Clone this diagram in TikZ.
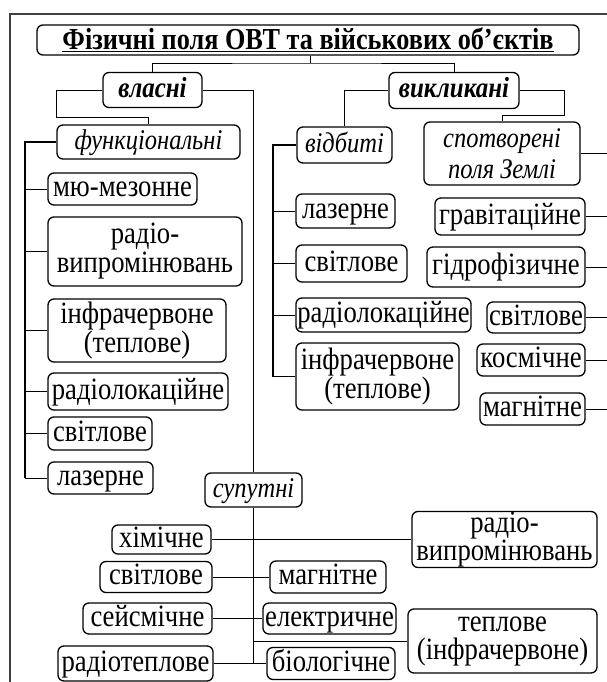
\documentclass[tikz,border=0pt]{standalone}
\usepackage{fontspec}
\setmainfont{Liberation Serif}[FakeStretch=0.86]
\newcommand\xItem{\fontsize{31}{28}\selectfont}
\newcommand\xTitle{\fontsize{30.5}{30}\selectfont\bfseries}
\newcommand\xHead{\fontsize{29}{28}\selectfont\bfseries\itshape}
\newcommand\xIt{\fontsize{28.5}{31}\selectfont\itshape}
\begin{document}
\begin{tikzpicture}[x=1pt,y=-1pt,
  mbox/.style={draw, rounded corners=6pt, line width=1.3pt, inner sep=0pt, align=center, font=\xItem},
  box/.style={mbox, text height=22pt, text depth=7pt},
  ln/.style={line width=0.9pt},
  bus/.style={line width=1.8pt},
]
\useasboundingbox (0,0) rectangle (607,682);
\draw[line width=1.6pt, black!75] (10,682) -- (10,14) -- (607,14);

% top level
\node[mbox, minimum width=542, minimum height=30, font=\xTitle] (title) at (308,40) {\underline{Фізичні поля ОВТ та військових об’єктів}};
\node[box, minimum width=99, minimum height=35, font=\xHead] (vlasni) at (152.5,90) {власні};
\node[box, minimum width=130, minimum height=36, font=\xHead] (vykl) at (454,90.5) {викликані};

% left column
\node[box, minimum width=183, minimum height=34, font=\xIt] (funk) at (148.5,142) {функціональні};
\node[box, minimum width=149, minimum height=32] (mju) at (122.5,189) {мю-мезонне};
\node[mbox, minimum width=194, minimum height=69] (radL) at (145,251.5) {радіо-\\[1pt]випромінювань};
\node[mbox, minimum width=178, minimum height=63] (infL) at (137,330.5) {інфрачервоне\\(теплове)};
\node[box, minimum width=180, minimum height=37] (rlL) at (138,391.5) {радіолокаційне};
\node[box, minimum width=104, minimum height=33] (svL) at (100,433.5) {світлове};
\node[box, minimum width=105, minimum height=32] (lazL) at (100.5,478) {лазерне};

% middle column
\node[box, minimum width=95, minimum height=36, font=\xIt] (vidb) at (344.5,145) {відбиті};
\node[box, minimum width=99, minimum height=34] (lazM) at (345.5,211) {лазерне};
\node[box, minimum width=111, minimum height=37] (svM) at (351.5,263.5) {світлове};
\node[box, minimum width=175, minimum height=34] (rlM) at (383.5,315) {радіолокаційне};
\node[mbox, minimum width=163, minimum height=67] (infM) at (377.5,376.5) {інфрачервоне\\(теплове)};

% right column
\node[mbox, minimum width=156, minimum height=63, font=\xIt] (spot) at (502,153.5) {спотворені\\поля Землі};
\node[box, minimum width=150, minimum height=37] (grav) at (510,216.5) {гравітаційне};
\node[box, minimum width=158, minimum height=40] (hydr) at (506,267) {гідрофізичне};
\node[box, minimum width=98, minimum height=31] (svR) at (536,317.5) {світлове};
\node[box, minimum width=108, minimum height=32] (kosm) at (531,360) {космічне};
\node[box, minimum width=105, minimum height=32] (magR) at (532.5,409) {магнітне};

% bottom section
\node[box, minimum width=97, minimum height=34, font=\xIt] (suputni) at (253.5,490) {супутні};
\node[box, minimum width=99, minimum height=27] (khim) at (161.5,539.5) {хімічне};
\node[mbox, minimum width=185, minimum height=56] (radB) at (504.5,539.5) {радіо-\\випромінювань};
\node[box, minimum width=112, minimum height=31] (svB) at (156,577) {світлове};
\node[box, minimum width=116, minimum height=32] (magB) at (328,577) {магнітне};
\node[box, minimum width=129, minimum height=31] (seis) at (147.5,618.5) {сейсмічне};
\node[box, minimum width=133, minimum height=31] (elek) at (329.5,618.5) {електричне};
\node[box, minimum width=155, minimum height=35] (radT) at (135.5,663.5) {радіотеплове};
\node[box, minimum width=128, minimum height=32] (biol) at (331,663.5) {біологічне};
\node[mbox, minimum width=189, minimum height=64] (tepl) at (502.5,641) {теплове\\(інфрачервоне)};

% connectors: top
\coordinate (tj) at (310,63);
\draw[ln] (vlasni.north) |- (tj) -| (vykl.north);
\draw[ln] (title.south -| tj) -- (tj);

% власні
\draw[ln] (vlasni.west) -| (56,117) -| (funk.north);
\draw[ln] (vlasni.east) -| (suputni.north);
\coordinate (b1) at (25,142);
\draw[bus] (funk.west) -- (b1) -- (b1 |- lazL.west);
\foreach \n in {mju,radL,infL,rlL,svL,lazL}
  \draw[ln] (b1 |- \n.west) -- (\n.west);

% викликані
\draw[ln] (vykl.west) -| (vidb.north);
\coordinate (b2) at (273,145);
\draw[bus] (vidb.west) -- (b2) -- (b2 |- infM.west);
\foreach \n in {lazM,svM,rlM,infM}
  \draw[ln] (b2 |- \n.west) -- (\n.west);

\draw[ln] (vykl.east) -| (564,115) -| (spot.north);
\coordinate (rE) at (607,0);
\draw[bus] (spot.east) -- (spot.east -| rE);
\foreach \n in {grav,hydr,svR,kosm,magR}
  \draw[ln] (\n.east) -- (\n.east -| rE);

% супутні
\draw[bus] (suputni.south) -- (suputni.south |- radT.east);
\draw[ln] (khim.east) -- (radB.west);
\draw[ln] (svB.east) -- (magB.west);
\draw[ln] (seis.east) -- (elek.west);
\draw[ln] (radT.east) -- (biol.west);
\draw[ln] (suputni.south |- tepl.west) -- (tepl.west);
\end{tikzpicture}
\end{document}
